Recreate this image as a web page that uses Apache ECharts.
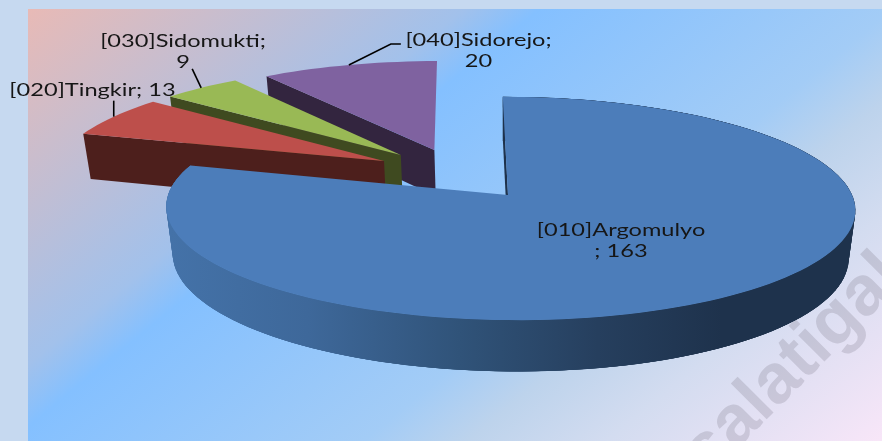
<!DOCTYPE html>
<html>
<head>
<meta charset="utf-8">
<style>html,body{margin:0;padding:0;background:#c6d9f0}#c{width:882px;height:441px}</style>
<script src="https://cdn.jsdelivr.net/npm/echarts@6/dist/echarts.min.js"></script>
</head>
<body>
<div id="c"></div>
<script>
var categories = ['[010]Argomulyo', '[020]Tingkir', '[030]Sidomukti', '[040]Sidorejo'];
var values = [163, 13, 9, 20];

// styles and layout
var topColors = ['#4c7dba', '#bd4f4b', '#99b955', '#7f62a0'];
var edgeColors = ['#1e324c', '#4d1f1c', '#3f4a20', '#33253f'];
var drawOrder = [3, 2, 1, 0];              // far slices first
var explode = [[0, 0], [-0.372, 0.321], [-0.322, 0.380], [-0.2195, 0.430]];
var labelSeparators = ['\n; ', '; ', ';\n', ';\n'];
var labelPos = [[621, 241], [92.5, 91], [183, 52], [478.5, 51]];
var leaderOffsets = [null, [[0, -16]], [[-9, -19]], [[42, -21], [52, -21]]];

var apex = [508, 195], Rx = 342, Ry = 110, K = 0.121, M = -0.006, S = -5.8, Q = 0.0193, H = 48.5;
var FONT = 'Lato', FS = 16.5, SX = 1.43;

function project(u, v, z) {
  var w = 1 + K * v + M * u + Q * z;
  return [apex[0] + (Rx * u + S * v) / w, apex[1] + (-Ry * v + H * z) / w];
}
function rad(d) { return d * Math.PI / 180; }
var total = values.reduce(function (a, b) { return a + b; }, 0);
var starts = [];
values.reduce(function (acc, v, i) { starts[i] = acc; return acc + v; }, 0);

function arc(i, z, from, to) {
  var pts = [], n = Math.max(8, Math.ceil((to - from) / 2));
  for (var j = 0; j <= n; j++) {
    var t = rad(from + (to - from) * j / n);
    pts.push(project(explode[i][0] + Math.sin(t), explode[i][1] + Math.cos(t), z));
  }
  return pts;
}
function rimPoint(i, deg) {
  var t = rad(deg);
  return project(explode[i][0] + Math.sin(t), explode[i][1] + Math.cos(t), 0);
}
function poly(pts, fill, z2) {
  return { type: 'polygon', z2: z2, shape: { points: pts }, silent: true, style: { fill: fill } };
}
var wallFill = {
  type: 'linear', global: true, x: 170, y: 0, x2: 860, y2: 0,
  colorStops: [
    { offset: 0, color: '#4472a8' }, { offset: 0.2, color: '#3e689a' },
    { offset: 0.42, color: '#305379' }, { offset: 0.62, color: '#263f5e' },
    { offset: 0.8, color: '#1e324c' }, { offset: 1, color: '#1e324c' }]
};

function renderItem(params, api) {
  var i = api.value(0), val = api.value(1);
  var a0 = starts[i] / total * 360, a1 = (starts[i] + val) / total * 360;
  var rank = drawOrder.indexOf(i) * 10 + 10;
  var ap0 = project(explode[i][0], explode[i][1], 0);
  var ap1 = project(explode[i][0], explode[i][1], 1);
  var kids = [];
  var top = arc(i, 0, a0, a1), bot = arc(i, 1, a0, a1);

  if (i === 0) {
    kids.push(poly(top.concat(bot.slice().reverse()), wallFill, rank));
    for (var j = 0; j + 3 < top.length; j++) {   // overlapping pieces, so no seams show
      kids.push(poly([top[j], top[j + 3], bot[j + 3], bot[j]], wallFill, rank));
    }
  }
  kids.push(poly([top[0], ap0, ap1, bot[0]], edgeColors[i], rank));
  kids.push(poly(top.concat([ap0]), topColors[i], rank + 1));

  kids.push({
    type: 'text', x: labelPos[i][0], y: labelPos[i][1], scaleX: SX, z2: 100, silent: true,
    style: { text: categories[i] + labelSeparators[i] + val, fill: '#161616', font: FS + 'px ' + FONT,
             align: 'center', verticalAlign: 'middle', lineHeight: 21 }
  });
  if (leaderOffsets[i]) {
    var s = rimPoint(i, (a0 + a1) / 2), pl = [s];
    leaderOffsets[i].forEach(function (o) { pl.push([s[0] + o[0], s[1] + o[1]]); });
    kids.push({ type: 'polyline', z2: 100, silent: true, shape: { points: pl }, style: { stroke: '#000', lineWidth: 1.6, fill: null } });
  }
  return { type: 'group', children: kids };
}

var chart = echarts.init(document.getElementById('c'), null, { renderer: 'canvas' });
chart.setOption({
  animation: false,
  backgroundColor: '#c6d9f0',
  graphic: [
    { type: 'rect', z: 0, silent: true, shape: { x: 28, y: 9, width: 854, height: 432 },
      style: { fill: { type: 'linear', global: true, x: 28, y: 9, x2: 581, y2: 687,
        colorStops: [{ offset: 0, color: '#e8bab6' }, { offset: 0.315, color: '#a2c1eb' }, { offset: 0.37, color: '#84c0ff' },
                     { offset: 0.625, color: '#a3ccf6' }, { offset: 0.70, color: '#bdd3ec' },
                     { offset: 0.8, color: '#d3dcf0' }, { offset: 1, color: '#f8e6f8' }] } } },
    { type: 'text', z: 0, silent: true, x: 694.6, y: 464.2, rotation: Math.PI / 4,
      style: { text: 'salatigak', fill: 'rgba(125,120,135,0.25)', font: 'bold 70px "Liberation Sans"', verticalAlign: 'middle' } }
  ],
  series: [{
    type: 'custom', coordinateSystem: 'none', renderItem: renderItem, silent: true,
    data: categories.map(function (c, i) { return [i, values[i]]; })
  }]
});
</script>
</body>
</html>
